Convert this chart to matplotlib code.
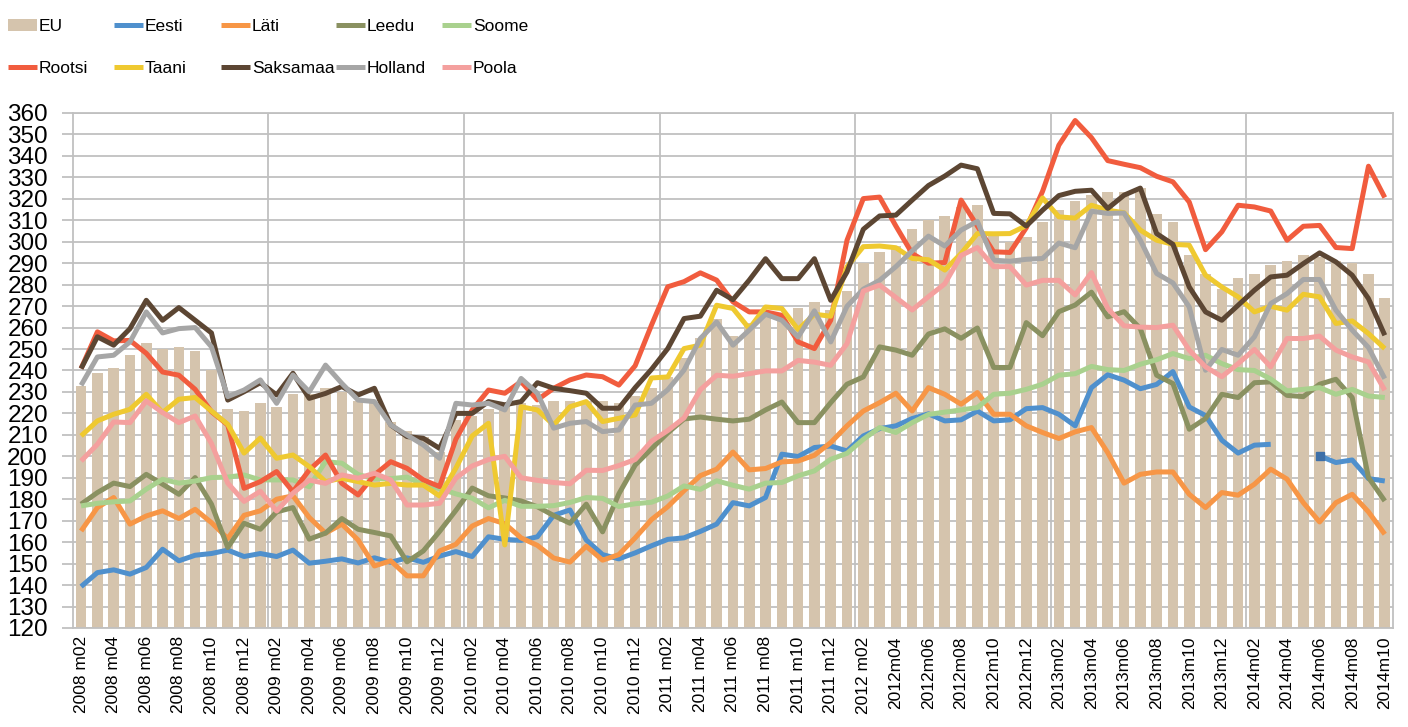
import numpy as np
import matplotlib
matplotlib.use("Agg")
import matplotlib.pyplot as plt
from matplotlib.ticker import MultipleLocator

plt.rcParams['font.family'] = ['Liberation Sans', 'DejaVu Sans']

# months 2008 m02 .. 2014 m10 (81 values)
months = []
for y in range(2008, 2015):
    for m in range(1, 13):
        if (y == 2008 and m < 2) or (y == 2014 and m > 10):
            continue
        months.append((y, m))

# tick labels, every second month
tick_labels = ["2008 m02", "2008 m04", "2008 m06", "2008 m08", "2008 m10", "2008 m12",
               "2009 m02", "2009 m04", "2009 m06", "2009 m08", "2009 m10", "2009 m12",
               "2010 m02", "2010 m04", "2010 m06", "2010 m08", "2010 m10", "2010 m12",
               "2011 m02", "2011 m04", "2011 m06", "2011 m08", "2011 m10", "2011 m12",
               "2012 m02", "2012m04", "2012m06", "2012m08", "2012m10", "2012m12",
               "2013m02", "2013m04", "2013m06", "2013m08", "2013m10", "2013m12",
               "2014m02", "2014m04", "2014m06", "2014m08", "2014m10"]

eu = [233, 239, 241, 247, 253, 250, 251, 249, 240, 222, 221, 225, 223, 229, 229, 232, 230, 226, 225, 216,
      212, 209, 202, 217, 219, 222, 224, 225, 224, 226, 226, 226, 226, 225, 228, 232, 237, 246, 255, 264,
      256, 262, 265, 264, 269, 272, 268, 277, 290, 295, 298, 306, 310, 312, 316, 317, 303, 300, 302, 309,
      315, 319, 322, 323, 323, 325, 313, 309, 294, 285, 278, 283, 285, 289, 291, 294, 293, 291, 290, 285,
      274]

eesti = [139.3, 145.8, 147.1, 145.1, 148.2, 156.7, 151.3, 153.9, 154.7, 156.3, 153.3, 154.7, 153.3, 156.3,
         150.2, 151.1, 152.2, 150.3, 152.7, 150.6, 152.7, 150.6, 153.5, 155.6, 153.3, 162.5, 161.3, 160.8,
         162.5, 172.5, 175, 161, 154.2, 152.2, 155, 158.3, 161.3, 162, 165, 168.4, 178.4, 176.9, 180.8, 201,
         199.9, 204.1, 204.8, 202.5, 209.5, 212.9, 214.2, 217.6, 219.8, 216.5, 217, 221.1, 216.5, 217, 222.2,
         222.7, 219.6, 214.2, 232, 238, 235.5, 231.5, 233.5, 239.5, 223, 219, 207.5, 201.5, 205.2, 205.6,
         np.nan, np.nan, 200.2, 197.1, 198.3, 189.6, 188.5]

lati = [165.2, 176.1, 180.8, 168.4, 172.2, 174.6, 171, 175.3, 169.1, 161.7, 172.5, 174.6, 180, 181.6, 171.5,
        164.2, 168.4, 161, 148.9, 151.3, 144.3, 144.3, 155.9, 159, 167.5, 171, 168.6, 162, 158.5, 152.6, 150.7,
        158.1, 151.6, 154.2, 162, 170.5, 176.5, 184, 191, 194, 202, 193.7, 194.3, 197.4, 197.8, 200.5, 206.4,
        214.2, 221.1, 225, 229.4, 221.1, 232, 228.9, 224.3, 229.7, 219.6, 219.6, 214.2, 211.1, 208.3, 211.4,
        213.4, 201.7, 187.5, 191.6, 192.7, 192.7, 182.3, 176.1, 183.1, 181.9, 187, 194, 189.4, 178.4, 169.4,
        178.4, 182.3, 174.1, 163.7]

leedu = [177.7, 183.1, 187.5, 185.9, 191.6, 187, 182.3, 190.1, 177.7, 157.5, 168.8, 166, 174.1, 176.1, 161.4,
         164.2, 171, 166, 164.5, 162.9, 150.8, 155.9, 165, 174.8, 185.2, 181.6, 180.6, 179.2, 176.5, 172.4,
         168.8, 177.7, 164.8, 182.5, 195.9, 203.5, 210.9, 217.4, 218.3, 217.3, 216.5, 217.3, 221.6, 225.3,
         215.7, 215.7, 225, 233.6, 237, 251, 249.5, 247.1, 257, 259.4, 255, 259.8, 241.4, 241.4, 262.3, 256.2,
         267.4, 270.5, 276.5, 265, 267.4, 259.5, 237.8, 233.9, 212.6, 217.6, 228.9, 227.4, 234.3, 234.7, 228.4,
         227.8, 233.6, 235.9, 227.4, 190.1, 179.2]

soome = [176.9, 178.1, 178.8, 179.2, 184.7, 189.3, 187.5, 188.5, 190.1, 190.3, 191.3, 189, 189, 189, 185.8,
         197.5, 196.8, 191.5, 189.5, 189.6, 190.3, 186.8, 185, 182.5, 180.5, 176, 179.5, 176.7, 176.7, 177,
         178.5, 180.8, 180.4, 176.6, 177.9, 178.6, 181.5, 186.2, 184.6, 188.6, 186.5, 184.7, 187.5, 187.8,
         190.9, 193.2, 198.6, 201.4, 207.9, 213.4, 211.1, 215.7, 219.5, 220.6, 221.6, 222.7, 228.9, 229.4,
         231.2, 233.6, 237.8, 238.5, 241.9, 240.4, 240, 242.9, 245, 247.9, 245.5, 247.1, 243.2, 240.4, 240,
         236, 230.5, 231.2, 232, 228.9, 231.2, 228.1, 227.4]

rootsi = [240.9, 258, 253.8, 254, 248, 239.3, 237.8, 231.2, 220.8, 214.6, 185.1, 188.2, 192.9, 183.5, 193.6,
          200.6, 187.4, 182, 191.3, 197.5, 194.4, 189, 185.9, 208, 221.6, 230.9, 229.4, 234.8, 226.3, 231.7,
          235.6, 237.9, 237.1, 233.2, 242.2, 261.1, 279, 281.4, 285.5, 282.1, 272, 267.3, 267.3, 265.7, 253.3,
          250.2, 263.4, 300.7, 320.1, 320.8, 307.3, 294.5, 290, 290.3, 319.4, 307.3, 295.3, 295, 306.5, 323.5,
          345, 356.5, 348.5, 337.8, 336.1, 334.5, 330.5, 327.9, 318.5, 296.3, 304.6, 317, 316.2, 314.3, 300.7,
          307.2, 307.6, 297.3, 296.8, 335.2, 320.6]

taani = [209.5, 216.5, 219.6, 221.9, 228.9, 220.4, 226.6, 227.4, 221.1, 214.9, 201.5, 208.5, 199.1, 200.6,
         195.2, 188.2, 189.8, 188.2, 186.6, 187.4, 186.6, 186.6, 181.5, 194.5, 209.5, 215.4, 158.7, 223.1,
         221.6, 214.6, 223.1, 225.5, 216.2, 217.7, 219.3, 236.5, 237, 250.2, 251.8, 270.4, 268.9, 259.5, 269.6,
         268.9, 259.1, 266.2, 265.3, 288.3, 297.7, 298, 297.2, 292.2, 291.6, 286.8, 294.5, 303.8, 303.7, 303.8,
         307.5, 320.4, 311.6, 311, 317, 314.7, 313.5, 305.4, 300.7, 298.8, 298.4, 284.4, 278.9, 274.3, 267.3,
         269.9, 268.1, 275.5, 274.3, 261.9, 263.1, 257.2, 250.2]

saksamaa = [240.9, 255.7, 251.8, 259.5, 272.7, 263.4, 269.3, 263.4, 257.5, 226.2, 230.1, 234.3, 228.6, 238.7,
            227, 229.3, 232.5, 228.6, 231.7, 214.6, 209.2, 208.4, 203.7, 220, 220, 225.5, 224, 225.5, 234.3,
            231.7, 230.6, 229.4, 222.4, 222.4, 232, 240.5, 250.2, 264.2, 265.3, 277.4, 273, 282.1, 292.1, 282.8,
            282.8, 292.1, 272.7, 285.9, 305.8, 312, 312.4, 319.4, 326.2, 330.6, 335.7, 334, 313.2, 313, 307.3,
            314.7, 321.5, 323.5, 324, 315.5, 321.7, 325, 303.8, 298.8, 278.9, 267.3, 263.4, 270.4, 277.4, 283.6,
            284.4, 289.8, 294.8, 290.6, 284.4, 273.5, 256.4]

holland = [233.1, 246.3, 247.1, 253.3, 267.3, 257.5, 259.5, 260, 251, 227.8, 230.9, 235.6, 224.7, 237.9, 230.1,
           242.5, 234, 226.2, 225.5, 214.6, 209.9, 205.3, 199.1, 224.7, 223.9, 224.7, 221.6, 236.3, 229.4, 213.1,
           215.4, 216.2, 211.5, 212.3, 223.9, 224.7, 231, 240.2, 254.9, 262.6, 251.8, 258.8, 266.2, 263.4, 255.6,
           267.8, 253.3, 269.9, 277.9, 282, 288.4, 295.7, 302.6, 298, 305.4, 309.5, 291.4, 290.9, 291.8, 292.2,
           299.4, 297.2, 314.2, 313.2, 313.4, 300.7, 285.2, 280.8, 269.6, 240.1, 249.8, 247.1, 255.7, 271.2,
           275.8, 282.4, 282.4, 268.1, 258.8, 250.7, 236.2]

poola = [197.8, 205.6, 216, 215.7, 225.8, 220.4, 215.7, 218.8, 206, 187.5, 179, 183.7, 174.5, 182.8, 188.9,
         187.4, 191.3, 189.8, 192.1, 189, 177.3, 177.3, 178.1, 189.8, 195.5, 198.5, 200, 190, 188.8, 187.8,
         187.2, 193.5, 193.4, 195.7, 198.5, 207, 212, 217.9, 231, 237.8, 237.3, 238.5, 239.8, 239.8, 244.7,
         243.9, 242.4, 252.5, 277, 279.8, 274, 268.2, 274.4, 280.4, 293.6, 297.3, 288.4, 288.4, 279.8, 282, 282,
         275.2, 285.6, 268.9, 260.8, 260.2, 260, 261.1, 249.5, 241.7, 237.1, 243.2, 249.8, 241.7, 254.9, 254.9,
         256, 249.5, 246.3, 244, 230.8]

x = np.arange(len(months))

fig = plt.figure(figsize=(14.08, 7.27), dpi=100)
ax = fig.add_axes([0.0518, 0.1362, 0.9375, 0.7084])

grid_c = '#c0c0c0'
bars = ax.bar(x, eu, width=0.65, color='#d5c4ad', zorder=2, label='EU')

series = [
    ('Eesti', eesti, '#4f90cd'),
    ('Läti', lati, '#f79646'),
    ('Leedu', leedu, '#8a9161'),
    ('Soome', soome, '#a9d18e'),
    ('Rootsi', rootsi, '#f15c3e'),
    ('Taani', taani, '#efc930'),
    ('Saksamaa', saksamaa, '#5c4633'),
    ('Holland', holland, '#a6a6a6'),
    ('Poola', poola, '#f4a09e'),
]
handles = {'EU': bars}
for name, vals, col in series:
    ln, = ax.plot(x, vals, color=col, lw=3.6, solid_joinstyle='round', solid_capstyle='butt',
                  zorder=3, label=name)
    handles[name] = ln

# isolated restart point of Eesti
ax.plot([x[76]], [eesti[76]], marker='s', ms=6, color='#3d6fa8', zorder=4, ls='none')

ax.set_ylim(120, 360)
ax.set_xlim(-0.5, len(x) - 0.5)
ax.yaxis.set_major_locator(MultipleLocator(10))
ax.set_xticks(x[::2])
ax.set_xticklabels(tick_labels, rotation=90, fontsize=12.5)
ax.set_xticks(np.arange(11.5, len(x), 12), minor=True)
ax.tick_params(axis='x', which='both', length=0, pad=6)
ax.tick_params(axis='y', length=8, color=grid_c, width=1.3, pad=10, labelsize=17.5)
ax.grid(axis='y', color=grid_c, lw=1.3, zorder=0)
ax.grid(axis='x', which='minor', color=grid_c, lw=1.3, zorder=0)
for s in ax.spines.values():
    s.set_color(grid_c)
    s.set_linewidth(1.3)

# legend, one block per column
cols = [['EU', 'Rootsi'], ['Eesti', 'Taani'], ['Läti', 'Saksamaa'], ['Leedu', 'Holland'], ['Soome', 'Poola']]
xs = [8, 114, 221, 336, 442]
for cx, names in zip(xs, cols):
    fig.legend([handles[n] for n in names], names, loc='upper left',
               bbox_to_anchor=(cx / 1408, 1 - 19 / 727), frameon=False, fontsize=12.5,
               handlelength=1.65, handletextpad=0.12, labelspacing=1.55, borderpad=0,
               borderaxespad=0)

fig.savefig('out.png', dpi=100)
